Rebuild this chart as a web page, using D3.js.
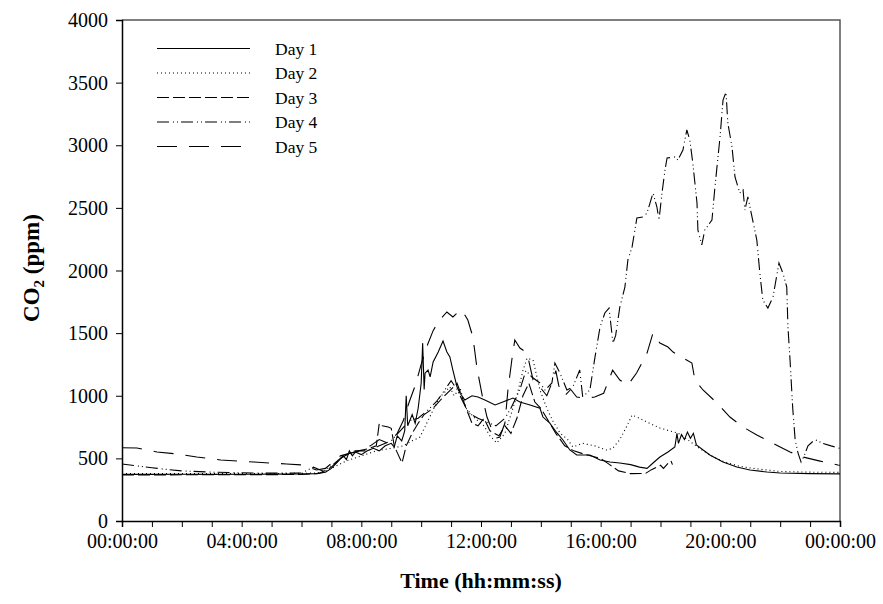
<!DOCTYPE html>
<html>
<head>
<meta charset="utf-8">
<script src="https://cdn.jsdelivr.net/npm/d3@7"></script>
<style>
  html, body { margin: 0; padding: 0; background: #fff; }
  svg { display: block; }
  .tick text { font-family: "Liberation Serif", "Times New Roman", serif; font-size: 20px; fill: #000; }
</style>
</head>
<body>
<svg id="chart" width="883" height="604"></svg>
<script>
// CO2 concentration over the day, hours since midnight -> ppm
const day1 = [[0,372],[1,372],[2,373],[3,372],[4,373],[5,374],[6,375],[6.5,378],[6.8,390],[7.0,420],[7.2,470],[7.4,520],[7.5,490],[7.6,560],[7.7,520],[7.8,550],[8.0,530],[8.2,560],[8.4,580],[8.6,560],[8.8,600],[9.0,620],[9.1,590],[9.2,680],[9.35,640],[9.45,720],[9.5,1000],[9.55,760],[9.7,850],[9.8,780],[9.9,900],[10.0,1100],[10.05,1420],[10.1,1050],[10.13,1180],[10.23,1205],[10.3,1150],[10.4,1270],[10.57,1350],[10.73,1437],[10.86,1350],[10.96,1310],[11.06,1205],[11.2,1070],[11.3,1020],[11.46,966],[11.7,1000],[11.9,990],[12.13,966],[12.47,926],[12.73,950],[13.07,982],[13.3,950],[13.64,926],[13.97,900],[14.07,830],[14.3,782],[14.54,703],[14.74,647],[14.97,567],[15.2,527],[15.64,527],[15.98,487],[16.31,471],[16.64,463],[17.0,450],[17.3,430],[17.55,420],[17.75,463],[17.98,511],[18.25,551],[18.48,591],[18.55,700],[18.6,620],[18.7,690],[18.8,650],[18.9,710],[19.0,660],[19.1,700],[19.2,607],[19.65,527],[20.09,471],[20.55,431],[20.99,407],[21.56,391],[22.0,383],[23,378],[24,376]];

const day2 = [[0,378],[2,378],[4,379],[6,380],[6.6,385],[7.0,420],[7.5,480],[8.0,520],[8.5,560],[9.0,580],[9.4,600],[9.7,640],[9.96,670],[10.19,782],[10.4,886],[10.63,990],[10.96,1070],[11.1,1000],[11.3,1060],[11.5,900],[11.8,820],[12.1,760],[12.3,680],[12.53,623],[12.8,700],[13.0,850],[13.2,1000],[13.4,1200],[13.54,1300],[13.74,1285],[13.87,1150],[13.97,1046],[14.2,900],[14.4,800],[14.64,703],[14.9,650],[15.07,591],[15.4,620],[15.8,600],[16.2,567],[16.4,580],[16.64,650],[16.88,760],[17.05,846],[17.3,820],[17.55,790],[17.98,742],[18.3,720],[18.58,703],[18.9,650],[19.3,580],[19.7,520],[20.1,475],[20.6,440],[21,423],[22,395],[23,390],[24,388]];

const day3 = [[0,368],[1,368],[2,369],[3,369],[4,370],[5,370],[6,372],[6.6,380],[7.0,430],[7.3,500],[7.6,540],[7.9,560],[8.2,575],[8.5,600],[8.6,780],[8.7,760],[8.9,750],[9.0,740],[9.1,600],[9.25,520],[9.36,463],[9.5,600],[9.7,700],[9.9,780],[10.1,850],[10.4,900],[10.7,980],[11.0,1050],[11.2,1100],[11.35,1000],[11.5,900],[11.7,780],[11.9,760],[12.1,820],[12.3,720],[12.6,680],[12.8,760],[13.0,700],[13.2,820],[13.4,1000],[13.6,1100],[13.8,950],[14.0,900],[14.2,820],[14.5,700],[14.8,600],[15.1,560],[15.5,530],[16.0,500],[16.3,450],[16.6,400],[17.0,378],[17.5,380],[17.7,410],[18.0,445],[18.1,420],[18.25,460],[18.35,480],[18.4,450]];

const day4 = [[0,455],[0.5,440],[1,425],[1.5,412],[2,400],[3,390],[4,385],[5,382],[6,383],[6.4,430],[6.7,400],[7.0,440],[7.4,520],[7.8,560],[8.2,560],[8.6,600],[9.0,640],[9.3,720],[9.6,800],[9.9,820],[10.2,880],[10.5,950],[10.8,1050],[11.0,1120],[11.2,1050],[11.4,950],[11.6,860],[11.9,820],[12.2,790],[12.5,760],[12.8,820],[13.0,900],[13.3,1050],[13.5,1200],[13.7,1150],[13.97,1102],[14.14,1046],[14.37,1102],[14.47,1261],[14.64,1181],[14.87,1046],[15.07,1070],[15.3,1205],[15.4,990],[15.64,1046],[15.81,1309],[15.98,1549],[16.14,1661],[16.28,1700],[16.41,1421],[16.5,1480],[16.64,1708],[16.81,1868],[16.91,2084],[17.05,2188],[17.21,2419],[17.41,2427],[17.55,2459],[17.75,2619],[17.88,2507],[17.95,2403],[18.05,2619],[18.15,2802],[18.22,2898],[18.48,2906],[18.58,2882],[18.75,2962],[18.88,3122],[18.98,3042],[19.08,2858],[19.22,2539],[19.25,2323],[19.38,2204],[19.48,2323],[19.72,2403],[19.82,2667],[19.99,3066],[20.09,3361],[20.19,3425],[20.25,3178],[20.39,2986],[20.49,2747],[20.65,2619],[20.76,2643],[20.82,2483],[20.92,2587],[21.06,2427],[21.22,2243],[21.32,1980],[21.42,1764],[21.59,1700],[21.76,1788],[21.96,2060],[22.09,1980],[22.22,1868],[22.26,1549],[22.33,1285],[22.42,900],[22.5,650],[22.6,540],[22.7,470],[22.8,520],[22.93,600],[23.16,650],[23.43,620],[23.7,600],[24,580]];

const day5 = [[0,585],[0.5,583],[1.17,551],[1.84,535],[2.5,511],[3.3,487],[4.4,471],[5.5,455],[6.05,447],[6.5,407],[6.8,420],[7.0,460],[7.3,520],[7.6,540],[8.0,560],[8.3,600],[8.6,650],[8.9,620],[9.2,700],[9.4,800],[9.6,950],[9.8,1080],[10.0,1250],[10.2,1400],[10.4,1520],[10.6,1600],[10.86,1669],[11.06,1629],[11.2,1660],[11.36,1685],[11.56,1605],[11.73,1469],[11.86,1230],[11.96,1102],[12.07,966],[12.2,830],[12.37,727],[12.53,663],[12.63,671],[12.8,782],[12.9,1046],[13.03,1285],[13.13,1445],[13.3,1381],[13.54,1341],[13.74,1126],[13.97,1070],[14.2,1000],[14.4,1120],[14.5,1200],[14.6,1080],[14.8,1000],[15.0,1050],[15.2,990],[15.5,980],[15.8,990],[16.1,1020],[16.4,1205],[16.64,1126],[16.91,1086],[17.2,1181],[17.55,1341],[17.75,1501],[17.98,1421],[18.25,1389],[18.42,1349],[18.75,1301],[19.05,1261],[19.15,1126],[19.42,1046],[19.89,942],[20.32,830],[20.76,750],[21.22,687],[21.66,631],[22.0,591],[22.33,551],[22.76,511],[23.3,480],[23.93,447],[24,445]];

const seriesNames = ["Day 1", "Day 2", "Day 3", "Day 4", "Day 5"];
const seriesData = [day1, day2, day3, day4, day5];
const dashPatterns = [null, "1,3", "12,4", "12,4,1,3,1,3", "20,12"];

const yTicks = [0, 500, 1000, 1500, 2000, 2500, 3000, 3500, 4000];
const xLabelHours = [0, 4, 8, 12, 16, 20, 24];
const xTickHours = d3.range(0, 25, 1);

const svg = d3.select("#chart");
const plot = { left: 122, right: 840, top: 20, bottom: 521 };

const x = d3.scaleLinear().domain([0, 24]).range([plot.left, plot.right]);
const y = d3.scaleLinear().domain([0, 4000]).range([plot.bottom, plot.top]);

// Frame: top and right edges
svg.append("path")
  .attr("d", `M${plot.left},${plot.top}H${plot.right}V${plot.bottom}`)
  .attr("fill", "none").attr("stroke", "#555").attr("stroke-width", 1.5);

const fmt = h => String(h % 24).padStart(2, "0") + ":00:00";

const xAxis = svg.append("g")
  .attr("transform", `translate(0,${plot.bottom})`)
  .call(d3.axisBottom(x).tickValues(xTickHours).tickSize(6).tickPadding(4)
    .tickFormat(h => xLabelHours.includes(h) ? fmt(h) : ""));

const yAxis = svg.append("g")
  .attr("transform", `translate(${plot.left},0)`)
  .call(d3.axisLeft(y).tickValues(yTicks).tickSize(6).tickPadding(8).tickFormat(d3.format("d")));

[xAxis, yAxis].forEach(a => {
  a.select(".domain").attr("stroke", "#000").attr("stroke-width", 1.5);
  a.selectAll(".tick line").attr("stroke", "#000").attr("stroke-width", 1);
});
xAxis.selectAll(".tick text").attr("dy", "0.85em");
yAxis.selectAll(".tick text").attr("dy", "0.33em");

// Series lines
const line = d3.line().x(d => x(d[0])).y(d => y(d[1]));
seriesData.forEach((data, i) => {
  svg.append("path")
    .datum(data)
    .attr("d", line)
    .attr("fill", "none")
    .attr("stroke", "#000")
    .attr("stroke-width", 1.1)
    .attr("stroke-dasharray", dashPatterns[i]);
});

// Legend
const legend = svg.append("g");
seriesNames.forEach((name, i) => {
  const ly = 48.5 + i * 24.5;
  legend.append("line")
    .attr("x1", 157).attr("x2", 250).attr("y1", ly).attr("y2", ly)
    .attr("stroke", "#000").attr("stroke-width", 1.1)
    .attr("stroke-dasharray", dashPatterns[i]);
  legend.append("text")
    .attr("x", 275).attr("y", ly).attr("dy", "0.35em")
    .attr("font-family", "Liberation Serif, Times New Roman, serif")
    .attr("font-size", 17.5)
    .text(name);
});

// Axis titles
svg.append("text")
  .attr("x", 481).attr("y", 588)
  .attr("text-anchor", "middle")
  .attr("font-family", "Liberation Serif, Times New Roman, serif")
  .attr("font-weight", "bold").attr("font-size", 22)
  .text("Time (hh:mm:ss)");

const yTitle = svg.append("text")
  .attr("transform", "translate(39,268) rotate(-90)")
  .attr("text-anchor", "middle")
  .attr("font-family", "Liberation Serif, Times New Roman, serif")
  .attr("font-weight", "bold").attr("font-size", 23);
yTitle.append("tspan").text("CO");
yTitle.append("tspan").attr("font-size", 15).attr("dy", 5).text("2");
yTitle.append("tspan").attr("dy", -5).text(" (ppm)");
</script>
</body>
</html>
